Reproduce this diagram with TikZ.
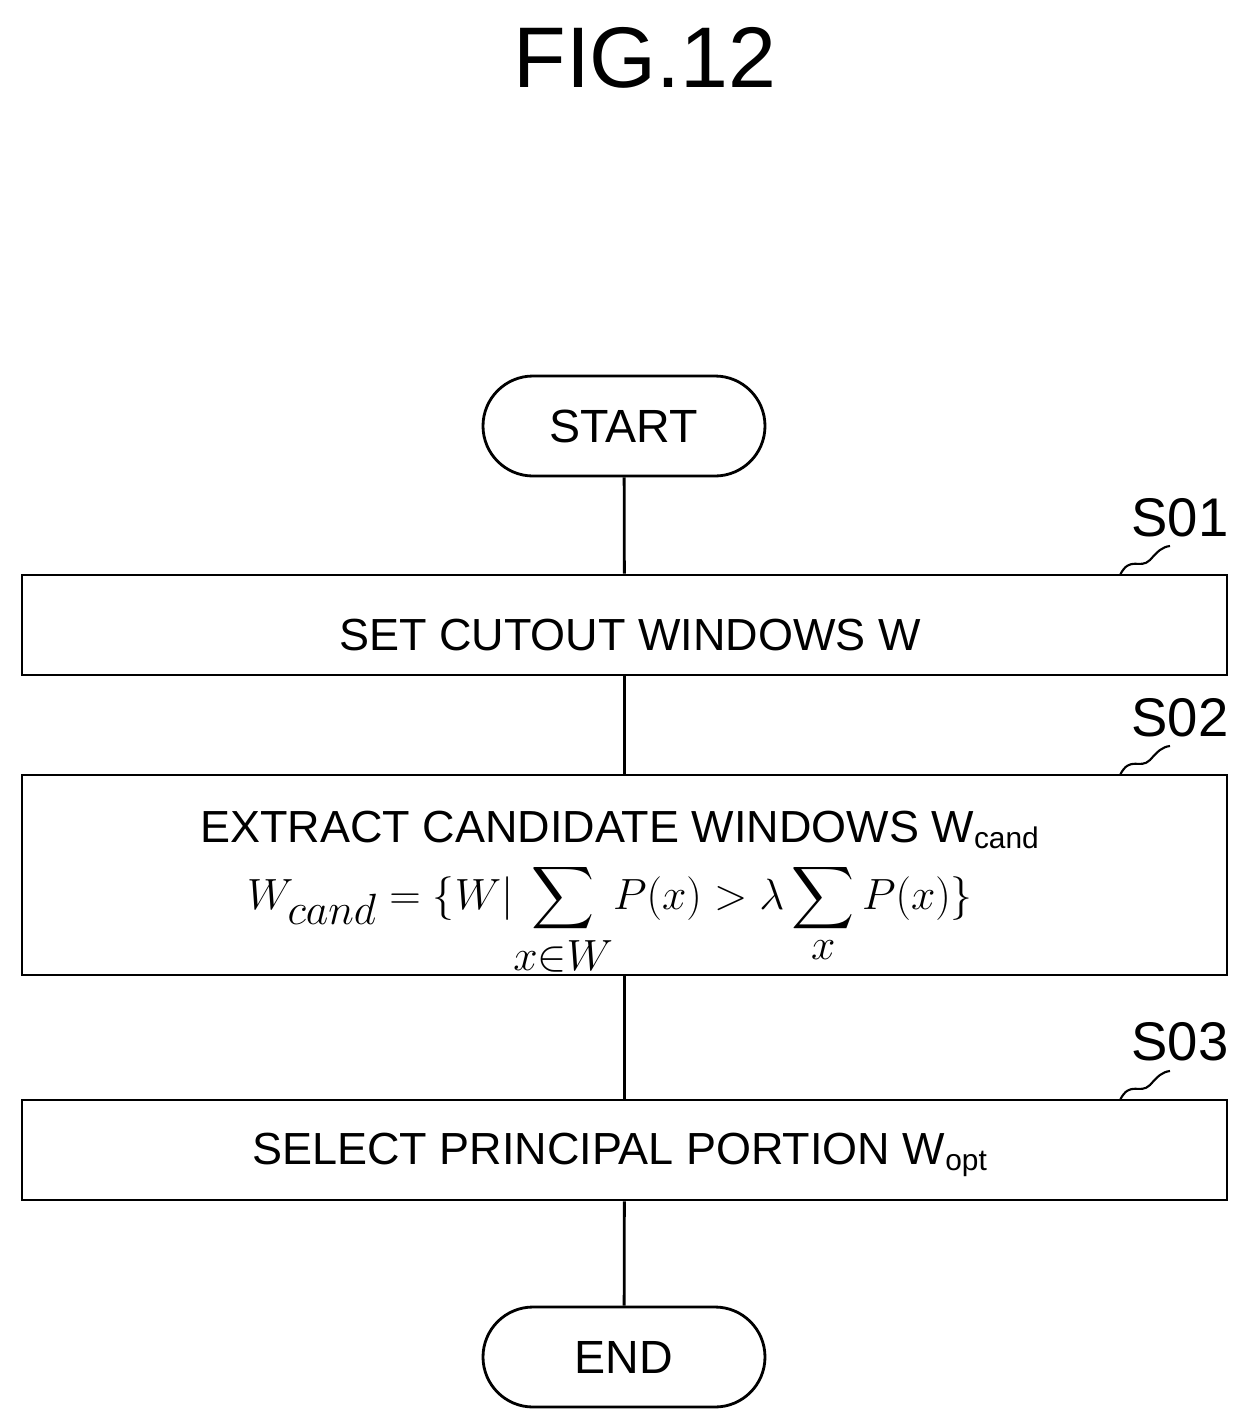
\documentclass[tikz,border=0pt]{standalone}
\usepackage{fontspec}
\usepackage{amsmath}
\setmainfont{Liberation Sans}
\begin{document}
\begin{tikzpicture}[x=0.02cm,y=-0.02cm,line width=1.6pt,
 box/.style={draw,minimum width=1205*0.02cm,inner sep=0pt},
 term/.style={draw,rounded corners=50*0.02cm,minimum width=282*0.02cm,minimum height=100*0.02cm,font=\fontsize{26.5}{30}\selectfont},
 txt/.style={font=\fontsize{25.6}{30}\selectfont},
 lab/.style={font=\fontsize{31}{36}\selectfont}]
\useasboundingbox (0,0) rectangle (1254,1424);
\node (title) at (645,58) {\fontsize{49}{56}\selectfont FIG.12};
\node[term] (start) at (624,426) {START};
\node[box,minimum height=100*0.02cm] (b1) at (624.5,625) {};
\node[txt] (t1) at (630,635) {SET CUTOUT WINDOWS W};
\node[box,minimum height=200*0.02cm] (b2) at (624.5,875) {};
\node[txt] (t2) at (620,830) {EXTRACT CANDIDATE WINDOWS W\textsubscript{\fontsize{17}{20}\selectfont cand}};
\node[inner sep=0pt] (f2) at (610,920) {\fontsize{38}{44}\selectfont $\displaystyle W_{cand}=\{W|\!\sum_{x\in W}\!P(x)>\lambda\sum_{x}P(x)\}$};
\node[box,minimum height=100*0.02cm] (b3) at (624.5,1150) {};
\node[txt] (t3) at (620,1155) {SELECT PRINCIPAL PORTION W\textsubscript{\fontsize{17}{20}\selectfont opt}};
\node[term] (end) at (624,1357) {END};
\draw (start) -- (b1);
\draw (b1) -- (b2);
\draw (b2) -- (b3);
\draw (b3) -- (end);
\foreach \n/\y in {S01/518,S02/718,S03/1042}{
 \node[lab] (l\n) at (1180,\y) {\n};
}
\foreach \y in {575,775,1100}{
 \coordinate (a\y) at (1120,\y);
 \draw[line width=1.2pt] (a\y) .. controls (1130,\y-20) and (1140,\y-5) .. (1150,\y-15) .. controls (1158,\y-24) and (1162,\y-28) .. (1170,\y-29);
}
\end{tikzpicture}
\end{document}
